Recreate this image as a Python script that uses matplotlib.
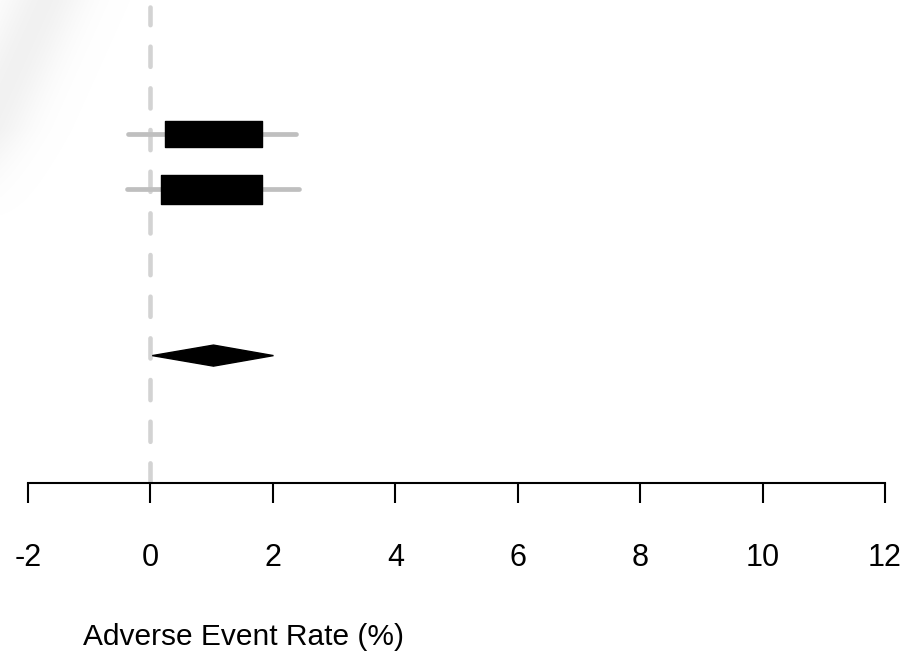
import matplotlib
matplotlib.use("Agg")
import matplotlib.pyplot as plt
from matplotlib.patches import Rectangle, Polygon
import numpy as np

plt.rcParams['font.family'] = ['Liberation Sans', 'DejaVu Sans']
plt.rcParams['lines.scale_dashes'] = False

# ---- data ----
study_est = [1.03, 1.005]
study_lo = [-0.36, -0.39]
study_hi = [2.385, 2.42]
box_halfwidth = [0.80, 0.825]
box_weight = [0.47, 0.53]
study_rows = [0, 1]

pooled_est = 1.03
pooled_lo = 0.03
pooled_hi = 2.01
pooled_row = 4

x_ticks = [-2, 0, 2, 4, 6, 8, 10, 12]
x_label = "Adverse Event Rate (%)"

# ---- figure ----
W, H = 909, 656
fig = plt.figure(figsize=(W / 100, H / 100), dpi=100)
ax = fig.add_axes([0, (H - 483) / H, 1, 483 / H])

ppu = (885 - 28) / 14.0
ax.set_xlim(-2 - 28 / ppu, 12 + (W - 885) / ppu)
ax.set_ylim(6.30, -2.42)

# faint diagonal watermark band
yy, xx = np.mgrid[0:H, 0:W]
d = (xx + 0.45 * yy - 45) / 40.0
band = np.exp(-d ** 2) * np.clip((220 - yy) / 90, 0, 1)
rgba = np.zeros((H, W, 4))
rgba[..., :3] = 0.85
rgba[..., 3] = 0.35 * band
fig.figimage(rgba, 0, 0, origin='upper', zorder=0)

# reference line at 0
ax.plot([0, 0], [6.30, -2.3], color='#d3d3d3', lw=3.3, solid_capstyle='round',
        dash_capstyle='round', dashes=(14.5, 15.5), zorder=1)

# studies
for est, lo, hi, hw, wt, r in zip(study_est, study_lo, study_hi, box_halfwidth,
                                   box_weight, study_rows):
    ax.plot([lo, hi], [r, r], color='#bfbfbf', lw=3.4, solid_capstyle='round', zorder=2)
    ax.add_patch(Rectangle((est - hw, r - wt / 2), 2 * hw, wt, facecolor='black',
                           edgecolor='black', lw=1, joinstyle='round', zorder=3))

# pooled diamond
dh = 0.19
ax.add_patch(Polygon([[pooled_lo, pooled_row], [pooled_est, pooled_row - dh],
                      [pooled_hi, pooled_row], [pooled_est, pooled_row + dh]],
                     closed=True, facecolor='black', edgecolor='black', lw=1, zorder=3))

# axis
for s in ['top', 'left', 'right']:
    ax.spines[s].set_visible(False)
ax.spines['bottom'].set_bounds(-2, 12)
ax.spines['bottom'].set_linewidth(1.5)
ax.set_xticks(x_ticks)
ax.set_xticklabels([str(t) for t in x_ticks], fontsize=22)
ax.tick_params(axis='x', direction='out', length=14.4, width=1.5, pad=29)
ax.set_yticks([])
ax.patch.set_alpha(0)

fig.text(83 / W, 1 - 645 / H, x_label, fontsize=21.5, ha='left', va='baseline')

fig.savefig("out.png", dpi=100)
